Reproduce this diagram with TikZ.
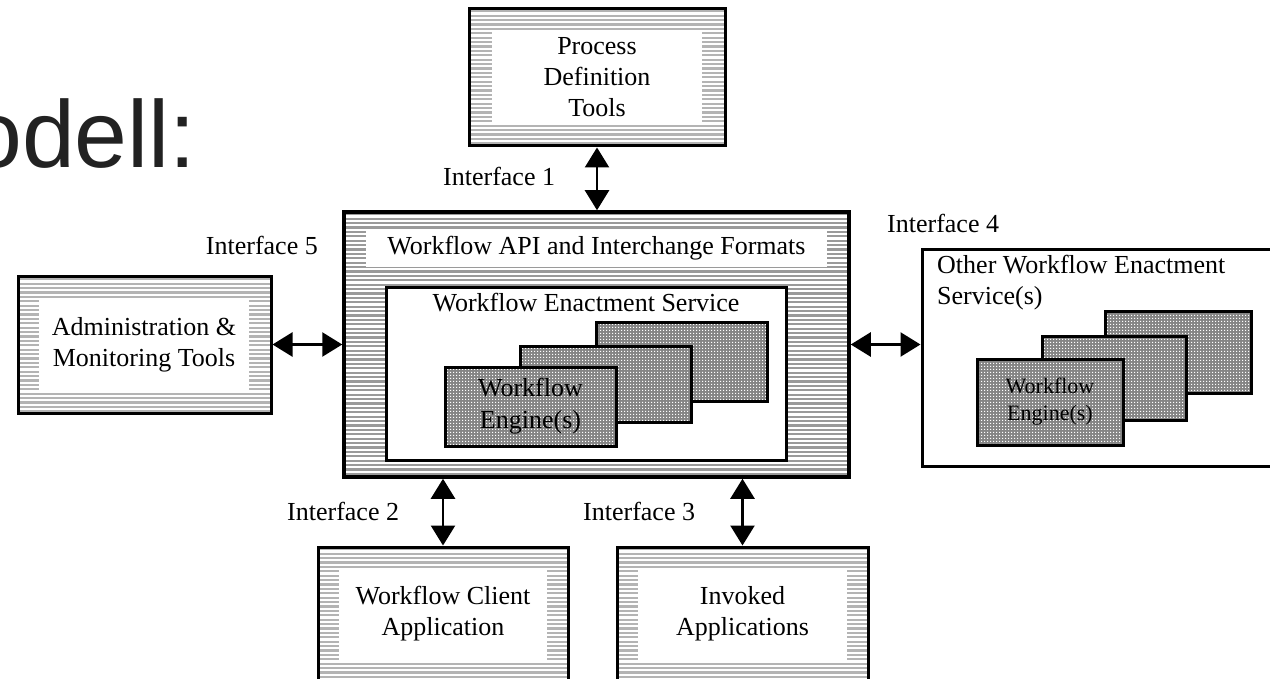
\documentclass[tikz,border=0pt]{standalone}
\usepackage{fontspec}
\setmainfont{Liberation Serif}
\newfontfamily\titlefont{Liberation Sans}
\usetikzlibrary{arrows.meta,patterns.meta}
\definecolor{stripegray}{HTML}{B4B4B4}
\definecolor{bigstripe}{HTML}{9A9A9A}
\definecolor{checkgray}{HTML}{858585}
\definecolor{titlegray}{HTML}{222222}
\pgfdeclarepattern{name=checkerpat, type=uncolored,
  bottom left={\pgfpoint{0pt}{0pt}}, top right={\pgfpoint{3pt}{3pt}},
  tile size={\pgfpoint{3pt}{3pt}},
  code={\pgfpathrectangle{\pgfpoint{0pt}{0pt}}{\pgfpoint{1.5pt}{1.5pt}}\pgfusepath{fill}}}
\begin{document}
\begin{tikzpicture}[x=1pt,y=-1pt,
  lbl/.style={font=\fontsize{26}{31}\selectfont, inner sep=0pt},
  stripes/.style={path picture={
     \foreach \k in {0,...,62}{
       \fill[#1] ([yshift={-\k*4.4pt-1.2pt}]path picture bounding box.north west)
          rectangle ++(700pt,-2.2pt);}}},
  stripebox/.style={draw, line width=3pt, inner sep=0pt, fill=white, stripes=stripegray},
  bigbox/.style={draw, line width=3.5pt, inner sep=0pt, fill=white, stripes=bigstripe},
  whitebox/.style={fill=white, inner sep=0pt, align=center, font=\fontsize{26}{31}\selectfont},
  plainbox/.style={draw, line width=3pt, fill=white, inner sep=0pt},
  enginebox/.style={draw, line width=3pt, inner sep=0pt, align=center,
     preaction={fill=checkgray}, preaction={pattern=checkerpat, pattern color=white}},
  biarrow/.style={line width=2.5pt, {Triangle[length=20pt,width=24pt]}-{Triangle[length=20pt,width=24pt]}}
]
\useasboundingbox (0,0) rectangle (1270,679);
\clip (0,0) rectangle (1270,679);

% title fragment
\node[anchor=base west, inner sep=0pt, text=titlegray,
      font={\titlefont\fontsize{95}{110}\selectfont}] (title) at (-31,168) {odell:};

% Process Definition Tools
\node[stripebox, minimum width=256pt, minimum height=137pt] (pdt) at (597,77.5) {};
\node[whitebox, minimum width=210pt, minimum height=90pt] (pdtin) at (597,77)
  {Process\\Definition\\Tools};

% big box
\node[bigbox, minimum width=505pt, minimum height=265pt] (big) at (596.5,344.5) {};
\node[whitebox, minimum width=461pt, minimum height=37pt] (api) at (596.5,248.5)
  {Workflow API and Interchange Formats};
\node[plainbox, minimum width=400pt, minimum height=172pt] (wes) at (586,374) {};
\node[lbl, anchor=base] (westxt) at (586,312) {Workflow Enactment Service};
\node[enginebox, minimum width=171pt, minimum height=78pt] (e1c) at (681.5,362) {};
\node[enginebox, minimum width=171pt, minimum height=76pt] (e1b) at (605.5,384) {};
\node[enginebox, minimum width=171pt, minimum height=79pt,
      font=\fontsize{26}{32}\selectfont] (e1a) at (530.5,406.5) {Workflow\\Engine(s)};

% Administration & Monitoring Tools
\node[stripebox, minimum width=253pt, minimum height=136pt] (adm) at (144.5,345) {};
\node[whitebox, minimum width=210pt, minimum height=90pt] (admin) at (144,345)
  {Administration \&\\Monitoring Tools};

% Other Workflow Enactment Service(s)
\node[plainbox, minimum width=368pt, minimum height=216pt] (oth) at (1106,358) {};
\node[lbl, anchor=north west, align=left] (othtxt) at (937,255)
  {Other Workflow Enactment\\Service(s)};
\node[enginebox, minimum width=146pt, minimum height=81pt] (e2c) at (1178,352.5) {};
\node[enginebox, minimum width=144pt, minimum height=84pt] (e2b) at (1114,378) {};
\node[enginebox, minimum width=146pt, minimum height=86pt,
      font=\fontsize{22}{27}\selectfont] (e2a) at (1050,402) {Workflow\\Engine(s)};

% Workflow Client Application
\node[stripebox, minimum width=250pt, minimum height=173pt] (cli) at (443,633.5) {};
\node[whitebox, minimum width=208pt, minimum height=92pt] (cliin) at (443,614)
  {Workflow Client\\Application};

% Invoked Applications
\node[stripebox, minimum width=251pt, minimum height=173pt] (inv) at (742.5,633.5) {};
\node[whitebox, minimum width=209pt, minimum height=92pt] (invin) at (742.5,614)
  {Invoked\\Applications};

% connectors
\draw[biarrow] (pdt.south) -- (pdt.south |- big.north);
\draw[biarrow] (adm.east |- big.west) -- (big.west);
\draw[biarrow] (big.east) -- (big.east -| oth.west);
\draw[biarrow] (cli.north |- big.south) -- (cli.north);
\draw[biarrow] (inv.north |- big.south) -- (inv.north);

% labels
\node[lbl, anchor=base west] (if1) at (443,186) {Interface 1};
\node[lbl, anchor=base east] (if5) at (318,255) {Interface 5};
\node[lbl, anchor=base west] (if4) at (887,233) {Interface 4};
\node[lbl, anchor=base west] (if2) at (287,520) {Interface 2};
\node[lbl, anchor=base west] (if3) at (583,520) {Interface 3};
\end{tikzpicture}
\end{document}
